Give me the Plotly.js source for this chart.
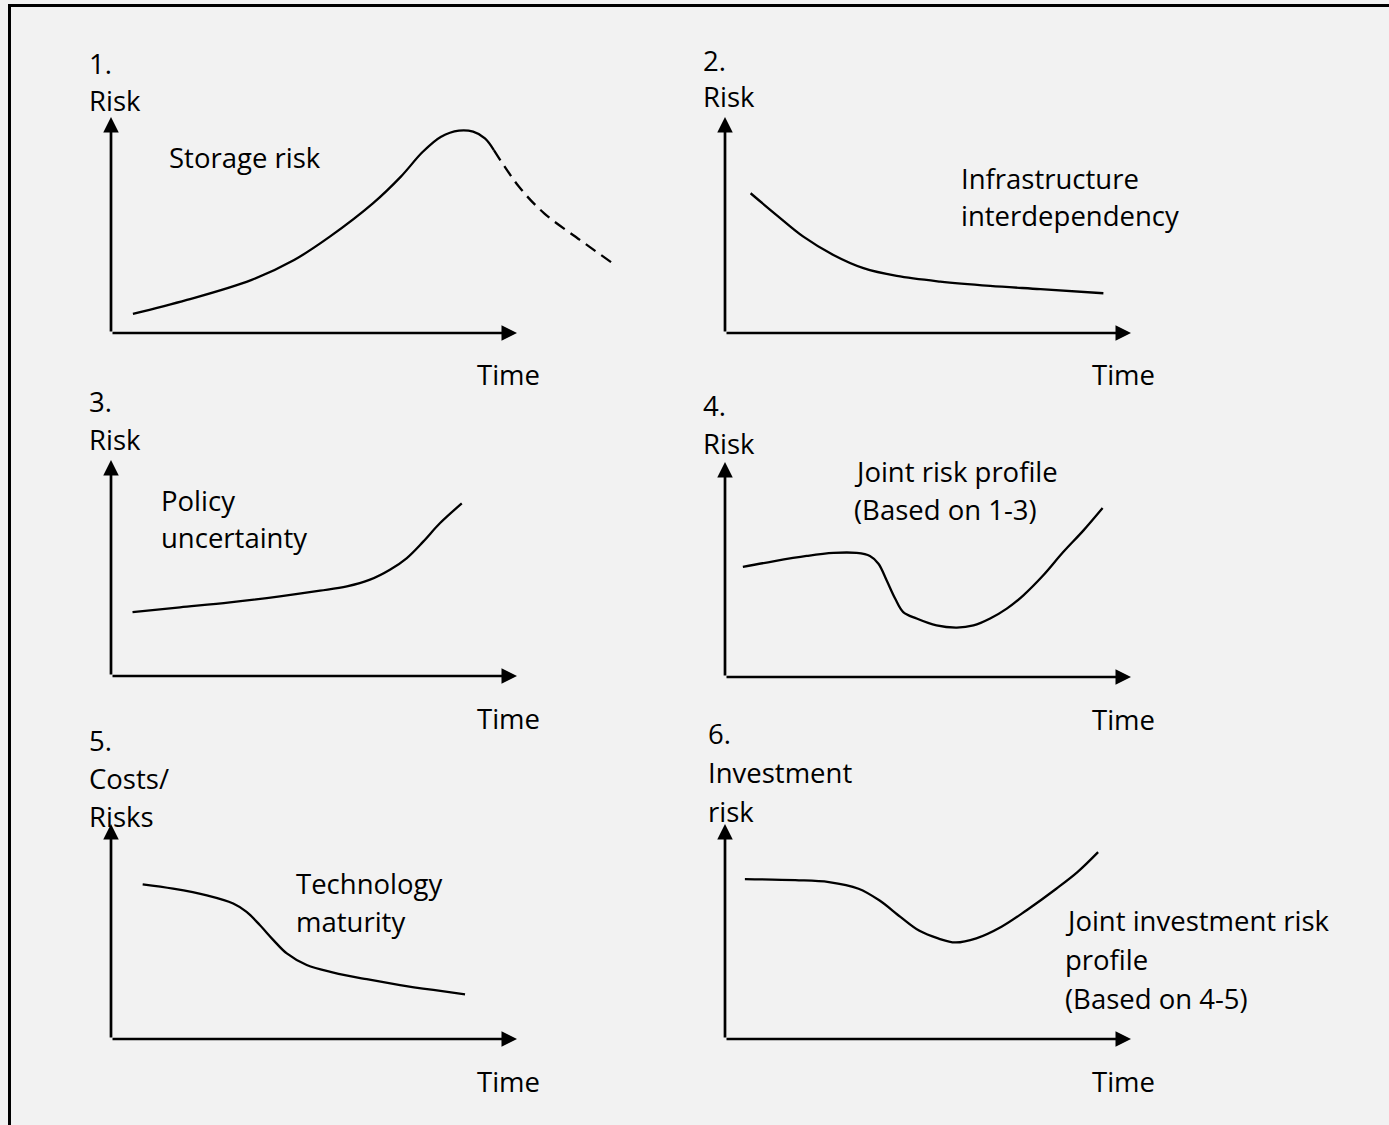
<!DOCTYPE html>
<html>
<head>
<meta charset="utf-8">
<script src="https://cdn.plot.ly/plotly-3.0.1.min.js"></script>
<style>
  html, body { margin: 0; padding: 0; background: #f2f2f2; }
  #chart { width: 1389px; height: 1125px; }
</style>
</head>
<body>
<div id="chart"></div>
<script>
// ---------- DATA (schematic values, axis arrows span 0..10 in each panel) ----------
// Panel 1: Storage risk
const p1Time = [0.54, 1.87, 3.45, 4.51, 5.39, 6.45, 7.14, 7.68, 8.13, 8.57, 8.92, 9.21, 9.43];
const p1Risk = [0.88, 1.53, 2.45, 3.38, 4.46, 6.00, 7.24, 8.39, 9.09, 9.37, 9.32, 9.01, 8.47];
const p1DashTime = [9.43, 10.05, 10.67, 11.55, 12.34];
const p1DashRisk = [8.47, 6.77, 5.54, 4.31, 3.25];
// Panel 2: Infrastructure interdependency
const p2Time = [0.63, 1.27, 1.93, 2.67, 3.41, 4.23, 5.30, 6.53, 7.77, 9.32];
const p2Risk = [6.47, 5.46, 4.46, 3.61, 3.00, 2.64, 2.38, 2.18, 2.03, 1.84];
// Panel 3: Policy uncertainty
const p3Time = [0.53, 1.70, 2.93, 4.16, 5.15, 5.81, 6.38, 6.87, 7.28, 7.69, 8.10, 8.64];
const p3Risk = [2.96, 3.18, 3.41, 3.69, 3.95, 4.15, 4.46, 4.92, 5.45, 6.22, 7.07, 7.99];
// Panel 4: Joint risk profile
const p4Time = [0.44, 1.19, 2.01, 2.67, 3.24, 3.57, 3.78, 3.98, 4.19, 4.39, 4.72, 5.21, 5.71, 6.12, 6.53, 6.94, 7.35, 7.84, 8.33, 8.83, 9.30];
const p4Risk = [5.12, 5.38, 5.63, 5.77, 5.77, 5.63, 5.27, 4.50, 3.65, 3.02, 2.72, 2.40, 2.30, 2.40, 2.72, 3.18, 3.80, 4.73, 5.81, 6.82, 7.86];
// Panel 5: Technology maturity
const p5Time = [0.78, 1.53, 2.36, 3.01, 3.34, 3.67, 4.00, 4.33, 4.82, 5.48, 6.30, 7.12, 7.94, 8.72];
const p5Cost = [7.19, 6.99, 6.68, 6.30, 5.91, 5.29, 4.60, 3.98, 3.44, 3.09, 2.78, 2.51, 2.28, 2.08];
// Panel 6: Joint investment risk profile
const p6Time = [0.49, 1.73, 2.56, 3.29, 3.80, 4.32, 4.79, 5.25, 5.67, 6.19, 6.81, 7.43, 8.16, 8.68, 9.19];
const p6Risk = [7.44, 7.39, 7.30, 6.99, 6.45, 5.68, 5.03, 4.68, 4.49, 4.68, 5.22, 5.99, 6.99, 7.76, 8.69];

// Text labels
const panelNumbers = ["1.", "2.", "3.", "4.", "5.", "6."];
const yLabels = [["Risk"], ["Risk"], ["Risk"], ["Risk"], ["Costs/", "Risks"], ["Investment", "risk"]];
const xLabel = "Time";
const curveLabels = [
  ["Storage risk"],
  ["Infrastructure", "interdependency"],
  ["Policy", "uncertainty"],
  ["Joint risk profile", "(Based on 1-3)"],
  ["Technology", "maturity"],
  ["Joint investment risk", "profile", "(Based on 4-5)"]
];

// ---------- LAYOUT GEOMETRY (pixels) ----------
const W = 1389, H = 1125;
const panels = [
  {ox: 111, oy: 333, xt: 517, yt: 117, numX: 87, numY: 64, labX: 167, labY: 157, timeX: 475, timeY: 375},
  {ox: 725, oy: 333, xt: 1131, yt: 117, numX: 701, numY: 60, labX: 959, labY: 178, timeX: 1090, timeY: 375},
  {ox: 111, oy: 676, xt: 517, yt: 460, numX: 87, numY: 402, labX: 159, labY: 500, timeX: 475, timeY: 718},
  {ox: 725, oy: 677, xt: 1131, yt: 462, numX: 701, numY: 405, labX: 852, labY: 471, timeX: 1090, timeY: 719},
  {ox: 111, oy: 1039, xt: 517, yt: 824, numX: 87, numY: 740, labX: 294, labY: 883, timeX: 475, timeY: 1081},
  {ox: 725, oy: 1039, xt: 1131, yt: 824, numX: 706, numY: 733, labX: 1063, labY: 920, timeX: 1090, timeY: 1081}
];
const lineGap = [37, 37, 37, 38, 38, 39];
const X_MIN = -0.5, X_MAX = 14, Y_MIN = -1, Y_MAX = 11;

const series = [
  [{x: p1Time, y: p1Risk, dash: 'solid'}, {x: p1DashTime, y: p1DashRisk, dash: '12px,7px'}],
  [{x: p2Time, y: p2Risk, dash: 'solid'}],
  [{x: p3Time, y: p3Risk, dash: 'solid'}],
  [{x: p4Time, y: p4Risk, dash: 'solid'}],
  [{x: p5Time, y: p5Cost, dash: 'solid'}],
  [{x: p6Time, y: p6Risk, dash: 'solid'}]
];

const FONT = {family: '"Open Sans", Lato, sans-serif', size: 27.5, color: '#000'};
const data = [];
const layout = {
  width: W, height: H,
  margin: {l: 0, r: 0, t: 0, b: 0},
  paper_bgcolor: '#f2f2f2',
  plot_bgcolor: 'rgba(0,0,0,0)',
  showlegend: false,
  font: FONT,
  annotations: [],
  shapes: [{
    type: 'rect', xref: 'paper', yref: 'paper',
    x0: 9.5 / W, x1: 1.05, y0: -0.05, y1: 1 - 5.5 / H,
    line: {color: '#000', width: 3}, fillcolor: 'rgba(0,0,0,0)'
  }]
};

function px2paperX(p) { return p / W; }
function px2paperY(p) { return 1 - p / H; }

const textAnn = (txt, x, y) => ({
  text: txt, xref: 'paper', yref: 'paper',
  x: px2paperX(x), y: px2paperY(y),
  xanchor: 'left', yanchor: 'middle', showarrow: false, font: FONT
});

panels.forEach((p, i) => {
  const n = i + 1;
  const xa = 'xaxis' + (n === 1 ? '' : n), ya = 'yaxis' + (n === 1 ? '' : n);
  const xr = 'x' + (n === 1 ? '' : n), yr = 'y' + (n === 1 ? '' : n);
  const ux = (p.xt - p.ox) / 10, uy = (p.oy - p.yt) / 10;
  const x0 = p.ox + X_MIN * ux, x1 = p.ox + X_MAX * ux;
  const yb = p.oy - Y_MIN * uy, ytop = p.oy - Y_MAX * uy;
  layout[xa] = {domain: [x0 / W, x1 / W], range: [X_MIN, X_MAX], visible: false, anchor: yr, fixedrange: true};
  layout[ya] = {domain: [1 - yb / H, 1 - ytop / H], range: [Y_MIN, Y_MAX], visible: false, anchor: xr, fixedrange: true};

  series[i].forEach(s => {
    data.push({
      type: 'scatter', mode: 'lines', x: s.x, y: s.y, xaxis: xr, yaxis: yr,
      line: {color: '#000', width: 2.3, shape: 'spline', smoothing: 1, dash: s.dash},
      hoverinfo: 'skip'
    });
  });

  // axis arrows
  const arrowBase = {xref: xr, yref: yr, axref: xr, ayref: yr, showarrow: true, text: '',
    arrowhead: 2, arrowsize: 1.15, arrowwidth: 2.7, arrowcolor: '#000', standoff: 0, startstandoff: 0};
  layout.annotations.push(Object.assign({}, arrowBase, {x: 10, y: 0, ax: 0, ay: 0}));
  layout.annotations.push(Object.assign({}, arrowBase, {x: 0, y: 10, ax: 0, ay: 0}));

  // texts
  layout.annotations.push(textAnn(panelNumbers[i], p.numX, p.numY));
  yLabels[i].forEach((t, k) => layout.annotations.push(textAnn(t, p.numX, p.numY + lineGap[i] * (k + 1))));
  curveLabels[i].forEach((t, k) => layout.annotations.push(textAnn(t, p.labX, p.labY + lineGap[i] * k)));
  layout.annotations.push(textAnn(xLabel, p.timeX, p.timeY));
});

Plotly.newPlot('chart', data, layout, {displayModeBar: false, staticPlot: true});
</script>
</body>
</html>
